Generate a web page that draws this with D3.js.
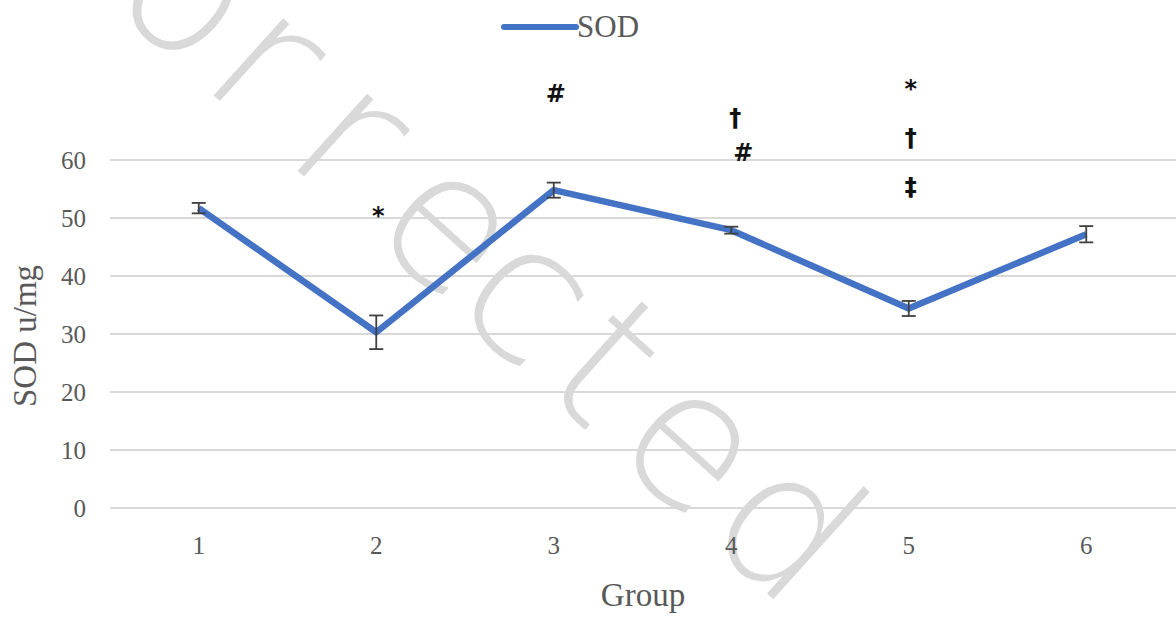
<!DOCTYPE html>
<html>
<head>
<meta charset="utf-8">
<script src="https://cdn.jsdelivr.net/npm/d3@7/dist/d3.min.js"></script>
<style>
  body { margin: 0; background: #fff; }
  svg { display: block; }
</style>
</head>
<body>
<div class="chart"></div>
<script>
// data
var groups = ["1", "2", "3", "4", "5", "6"];
var sodMean = [51.7, 30.3, 54.8, 47.9, 34.4, 47.2];
var sodErr = [0.9, 2.9, 1.3, 0.6, 1.3, 1.4];
var yTicks = [0, 10, 20, 30, 40, 50, 60];
// significance marks above each group (stacked from top)
var marks = [
    { group: "2", text: "*", value: 50.5 },
    { group: "3", text: "#", value: 71.5 },
    { group: "4", text: "†", value: 67.5, dx: 4 },
    { group: "4", text: "#", value: 61.3, dx: 12 },
    { group: "5", text: "*", value: 72.5 },
    { group: "5", text: "†", value: 64 },
    { group: "5", text: "‡", value: 55.5 }
];

var width = 1176, height = 617;
var serif = "'Liberation Serif', 'Times New Roman', serif";

var svg = d3.select(".chart").append("svg")
    .attr("width", width)
    .attr("height", height);

var x = d3.scaleBand().domain(groups).range([110, 1175]);
var y = d3.scaleLinear().domain([0, 60]).range([508, 160]);

// watermark, one glyph at a time along a 42deg baseline
var wmChars = "Corrected".split("");
var wmPos = [15, 135, 240, 353, 486, 591, 694, 812, 937];
svg.append("g")
    .attr("transform", "rotate(42)")
    .selectAll("text").data(wmChars).enter().append("text")
    .attr("transform", function(d, i) { return "translate(" + wmPos[i] + ",-72)"; })
    .attr("text-anchor", "middle")
    .attr("font-family", "'DejaVu Sans', sans-serif")
    .attr("font-weight", 200)
    .attr("font-size", 190)
    .attr("fill", "#d9d9d9")
    .text(function(d) { return d; });

// gridlines
svg.append("g").selectAll("line").data(yTicks).enter().append("line")
    .attr("x1", 110).attr("x2", 1176)
    .attr("y1", function(d) { return y(d); })
    .attr("y2", function(d) { return y(d); })
    .attr("stroke", "#d9d9d9")
    .attr("stroke-width", 2);

// y axis (labels only)
var yAxis = svg.append("g")
    .attr("transform", "translate(86,0)")
    .call(d3.axisLeft(y).tickValues(yTicks).tickSize(0).tickPadding(0));
yAxis.select(".domain").remove();
yAxis.selectAll("text")
    .attr("font-family", serif)
    .attr("font-size", 25)
    .attr("fill", "#595959");

// x axis (labels only)
var xAxis = svg.append("g")
    .attr("transform", "translate(0,536)")
    .call(d3.axisBottom(x).tickSize(0).tickPadding(0));
xAxis.select(".domain").remove();
xAxis.selectAll("text")
    .attr("font-family", serif)
    .attr("font-size", 25)
    .attr("fill", "#595959");

// axis titles
svg.append("text")
    .attr("x", 643).attr("y", 606)
    .attr("text-anchor", "middle")
    .attr("font-family", serif)
    .attr("font-size", 33)
    .attr("fill", "#595959")
    .text("Group");

svg.append("text")
    .attr("transform", "translate(36,336) rotate(-90)")
    .attr("text-anchor", "middle")
    .attr("font-family", serif)
    .attr("font-size", 33)
    .attr("fill", "#595959")
    .text("SOD u/mg");

// legend
svg.append("line")
    .attr("x1", 504).attr("x2", 576)
    .attr("y1", 27).attr("y2", 27)
    .attr("stroke", "#4472C4")
    .attr("stroke-width", 6)
    .attr("stroke-linecap", "round");
svg.append("text")
    .attr("x", 577).attr("y", 37)
    .attr("font-family", serif)
    .attr("font-size", 31)
    .attr("fill", "#595959")
    .text("SOD");

var pts = groups.map(function(g, i) {
    return { g: g, v: sodMean[i], e: sodErr[i] };
});
var cx = function(d) { return x(d.g) + x.bandwidth() / 2; };

// the line
svg.append("path")
    .datum(pts)
    .attr("fill", "none")
    .attr("stroke", "#4472C4")
    .attr("stroke-width", 6.5)
    .attr("stroke-linejoin", "round")
    .attr("d", d3.line().x(cx).y(function(d) { return y(d.v); }));

// error bars
var eb = svg.append("g").selectAll("g").data(pts).enter().append("g")
    .attr("stroke", "#404040")
    .attr("stroke-width", 1.8);
eb.append("line")
    .attr("x1", cx).attr("x2", cx)
    .attr("y1", function(d) { return y(d.v + d.e); })
    .attr("y2", function(d) { return y(d.v - d.e); });
eb.append("line")
    .attr("x1", function(d) { return cx(d) - 7; })
    .attr("x2", function(d) { return cx(d) + 7; })
    .attr("y1", function(d) { return y(d.v + d.e); })
    .attr("y2", function(d) { return y(d.v + d.e); });
eb.append("line")
    .attr("x1", function(d) { return cx(d) - 7; })
    .attr("x2", function(d) { return cx(d) + 7; })
    .attr("y1", function(d) { return y(d.v - d.e); })
    .attr("y2", function(d) { return y(d.v - d.e); });

// significance marks
svg.append("g").selectAll("text").data(marks).enter().append("text")
    .attr("x", function(d) { return x(d.group) + x.bandwidth() / 2 + (d.dx || 2); })
    .attr("y", function(d) { return y(d.value) + 9; })
    .attr("text-anchor", "middle")
    .attr("font-family", "'DejaVu Sans', sans-serif")
    .attr("font-weight", "bold")
    .attr("font-size", 24)
    .attr("fill", "#111")
    .text(function(d) { return d.text; });
</script>
</body>
</html>
